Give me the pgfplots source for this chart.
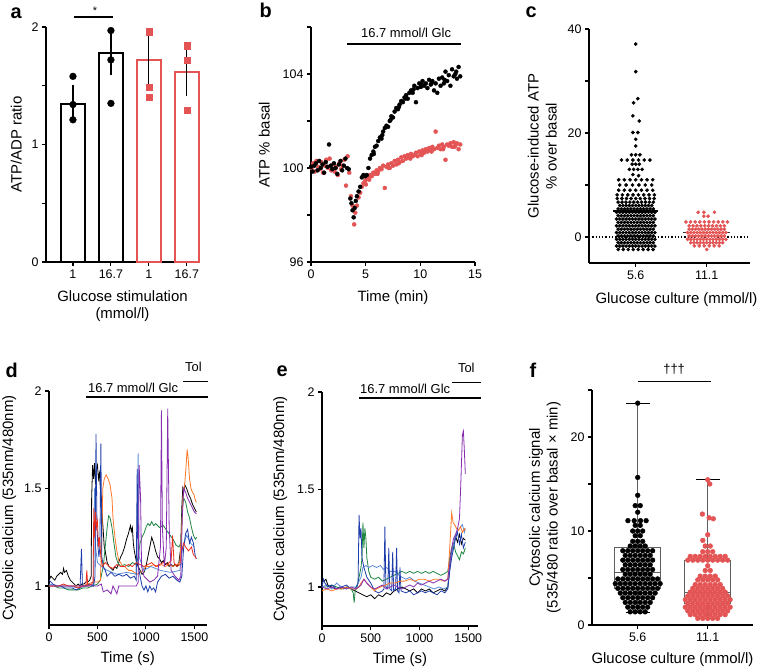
\documentclass[border=0pt]{standalone}
\usepackage{fontspec}
\setmainfont{Liberation Sans}
\usepackage{pgfplots}
\pgfplotsset{compat=1.18}
\usepgfplotslibrary{statistics}
\definecolor{myred}{RGB}{228,84,84}
\definecolor{tblue}{RGB}{30,60,170}
\definecolor{tlblue}{RGB}{90,140,215}
\definecolor{torange}{RGB}{255,120,40}
\definecolor{tred}{RGB}{235,45,30}
\definecolor{tgreen}{RGB}{30,135,65}
\definecolor{tpurple}{RGB}{135,45,175}
\definecolor{boxgray}{RGB}{95,95,95}
\pgfplotsset{
  base/.style={
    scale only axis, clip=false, anchor=south west,
    axis x line*=bottom, axis y line*=left,
    tick align=outside, major tick length=4bp,
    axis line style={line width=1.2bp, black},
    tick style={line width=1.1bp, black},
    tick label style={font=\fontsize{12.5}{14}\selectfont},
    label style={font=\fontsize{15}{18}\selectfont, align=center},
    /pgf/number format/assume math mode=true,
    /pgf/number format/1000 sep={},
    scaled ticks=false,
  },
  trace/.style={line width=0.8bp, mark=none},
}
\begin{document}
\begin{tikzpicture}
\useasboundingbox (0,0) rectangle (759bp,668bp);
\fill[white] (0,0) rectangle (759bp,668bp);
\tikzset{plab/.style={anchor=base west, font=\fontsize{20}{24}\selectfont\bfseries}}
\node[plab] at (7bp,649bp) {a};
\node[plab] at (256bp,650bp) {b};
\node[plab] at (522bp,650bp) {c};
\node[plab] at (2bp,290bp) {d};
\node[plab] at (273bp,291bp) {e};
\node[plab] at (526bp,290bp) {f};

% ---------------- a
\begin{axis}[base, at={(46bp,406bp)}, width=153bp, height=235bp,
  xmin=0.29, xmax=4.32, ymin=0, ymax=2,
  xtick={1,2,3,4}, xticklabels={1,16.7,1,16.7},
  ytick={0,0.5,1,1.5,2}, yticklabels={0,,1,,2},
  ylabel shift=3bp, xlabel shift=5bp,
  ylabel={ATP/ADP ratio}, xlabel={Glucose stimulation\\(mmol/l)}]
\addplot[ybar, bar width=24.5bp, bar shift=0pt, draw=black, fill=white, line width=2bp] coordinates {(1,1.345)(2,1.78)};
\addplot[ybar, bar width=24.5bp, bar shift=0pt, draw=myred, fill=white, line width=2bp] coordinates {(3,1.72)(4,1.62)};
\addplot[only marks, mark=*, mark size=3.4bp, black] coordinates {(1,1.58)(1,1.34)(1,1.21)(2,1.97)(2,1.72)(2,1.35)};
\addplot[only marks, mark=square*, mark size=3.1bp, myred, mark options={draw=myred, fill=myred}] coordinates {(3,1.96)(3,1.49)(3,1.40)(4,1.84)(4,1.72)(4,1.29)};
\addplot[draw=none, mark=none, error bars/.cd, y dir=both, y explicit,
  error bar style={draw=black, line width=1.2bp}, error mark=-, error mark options={draw=black, line width=1.2bp, mark size=4bp}]
  coordinates {(1,1.345) +- (0,0.13) (2,1.78) +- (0,0.157) (3,1.72) +- (0,0.168) (4,1.62) +- (0,0.17)};
\draw[line width=1.2bp] (axis cs:1.03,2.085) -- (axis cs:2.06,2.085);
\node[anchor=north, inner sep=0pt, font=\fontsize{11}{13}\selectfont] at (axis cs:1.58,2.175) {*};
\end{axis}

% ---------------- b
\begin{axis}[base, at={(311bp,406bp)}, width=164bp, height=235bp,
  xmin=0, xmax=15, ymin=96, ymax=106,
  xtick={0,5,10,15}, ytick={96,98,...,106}, yticklabels={96,,100,,104,},
  ylabel shift=6bp, xlabel shift=5bp,
  xlabel={Time (min)}, ylabel={ATP \% basal}]
\addplot[only marks, mark=*, mark size=2bp, myred] coordinates {
(0.05,100.00)(0.20,100.20)(0.35,99.85)(0.50,100.30)(0.65,100.05)(0.80,99.95)(0.95,100.25)(1.10,99.80)(1.25,100.10)(1.40,100.35)
(1.55,100.00)(1.70,100.40)(1.85,99.90)(2.00,100.15)(2.15,99.85)(2.30,100.05)(2.45,99.70)(2.60,100.20)(2.75,99.95)(2.90,100.10)
(3.05,100.35)(3.20,99.25)(3.35,100.50)(3.50,99.80)(3.65,98.80)(3.80,98.40)(3.95,97.60)(4.05,98.10)(4.20,98.40)(4.35,98.75)
(4.50,98.95)(4.65,99.20)(4.80,99.35)(4.95,99.45)(5.10,99.55)(5.25,99.60)(5.40,99.70)(5.55,99.65)(5.70,99.80)(5.85,99.75)
(6.00,99.90)(6.15,99.85)(6.30,100.00)(6.45,99.95)(6.60,100.10)(6.75,99.15)(6.90,100.05)(7.05,100.15)(7.20,100.00)(7.35,100.20)
(7.50,100.10)(7.65,100.30)(7.80,100.15)(7.95,100.35)(8.10,100.25)(8.25,100.45)(8.40,100.30)(8.55,100.50)(8.70,100.40)(8.85,100.55)
(9.00,100.45)(9.15,100.60)(9.30,100.50)(9.45,100.55)(9.60,100.65)(9.75,100.50)(9.90,100.70)(10.05,100.60)(10.20,100.75)(10.35,100.65)
(10.50,100.80)(10.65,100.70)(10.80,100.85)(10.95,100.75)(11.10,100.90)(11.25,100.80)(11.40,101.55)(11.55,100.85)(11.70,100.95)(11.85,100.80)
(12.00,101.00)(12.15,100.90)(12.30,100.35)(12.45,101.00)(12.60,100.95)(12.75,101.05)(12.90,100.90)(13.05,101.10)(13.20,100.95)(13.35,101.05)
(13.50,100.80)(13.65,101.00)(5.02,99.30)(5.32,99.50)(6.08,99.75)(7.12,100.00)(8.02,100.20)(9.08,100.40)(10.12,100.55)(11.02,100.70)(12.08,100.80)(13.12,100.90)};
\addplot[only marks, mark=*, mark size=2bp, black] coordinates {
(0.00,100.05)(0.15,99.85)(0.30,100.10)(0.45,100.20)(0.60,99.90)(0.75,100.30)(0.90,100.00)(1.05,100.15)(1.20,99.80)(1.35,100.25)
(1.50,100.05)(1.65,101.00)(1.80,100.10)(1.95,99.95)(2.10,100.20)(2.25,100.00)(2.40,99.75)(2.55,100.15)(2.70,100.30)(2.85,99.90)
(3.00,100.10)(3.15,100.40)(3.30,100.00)(3.45,99.95)(3.60,98.70)(3.70,98.50)(3.80,98.20)(3.90,97.90)(4.00,98.30)(4.10,98.60)
(4.20,98.80)(4.35,99.00)(4.50,99.20)(4.65,99.60)(4.80,99.70)(4.95,99.65)(5.10,99.70)(5.25,100.00)(5.40,100.40)(5.55,100.55)
(5.70,100.70)(5.85,100.90)(6.00,100.95)(6.15,101.15)(6.30,101.30)(6.45,101.25)(6.60,101.55)(6.75,101.70)(6.90,101.80)(7.05,101.75)
(7.20,102.00)(7.35,102.20)(7.50,102.15)(7.65,102.40)(7.80,102.55)(7.95,102.50)(8.10,102.70)(8.25,102.85)(8.40,102.80)(8.55,103.00)
(8.70,103.10)(8.85,102.95)(9.00,103.20)(9.15,103.30)(9.30,103.20)(9.45,103.50)(9.60,102.80)(9.75,103.40)(9.90,103.60)(10.05,103.45)
(10.20,103.70)(10.35,103.50)(10.50,103.60)(10.65,103.40)(10.80,103.75)(10.95,103.55)(11.10,103.70)(11.25,103.30)(11.40,103.60)(11.55,103.20)
(11.70,103.80)(11.85,103.50)(12.00,103.85)(12.15,103.60)(12.30,104.10)(12.45,103.70)(12.60,103.95)(12.75,103.50)(12.90,104.20)(13.05,103.90)
(13.20,104.00)(13.35,103.80)(13.50,104.30)(13.65,103.90)(5.75,100.60)(6.52,101.40)(7.28,102.05)(8.05,102.60)(8.62,102.95)(9.38,103.35)(10.12,103.55)(11.02,103.60)(12.22,103.75)(13.28,104.10)};
\draw[line width=1.2bp] (axis cs:3.31,105.28) -- (axis cs:13.74,105.28);
\node[anchor=base, font=\fontsize{13}{15}\selectfont] at (axis cs:8.7,105.55) {16.7 mmol/l Glc};
\end{axis}

% ---------------- c
\begin{axis}[base, at={(589bp,405bp)}, width=161bp, height=234bp,
  xmin=0.342, xmax=2.61, ymin=-5, ymax=40,
  xtick={1,2}, xticklabels={5.6,11.1}, ytick={0,10,...,40}, yticklabels={0,,20,,40},
  ylabel shift=4bp, xlabel shift=6bp,
  xlabel={Glucose culture (mmol/l)}, xlabel style={xshift=7bp},
  ylabel={Glucose-induced ATP\\\% over basal}]
\addplot[black, dotted, line width=1.3bp] coordinates {(0.342,0)(2.61,0)};
\addplot[only marks, mark=*, mark size=1.65bp, black] coordinates {
(0.755,-2.4)(0.825,-2.4)(0.895,-2.4)(0.965,-2.4)(1.035,-2.4)(1.105,-2.4)(1.175,-2.4)(1.245,-2.4)
(0.73,-1.75)(0.775,-1.75)(0.82,-1.75)(0.865,-1.75)(0.91,-1.75)(0.955,-1.75)(1,-1.75)(1.045,-1.75)(1.09,-1.75)(1.135,-1.75)(1.18,-1.75)(1.225,-1.75)(1.27,-1.75)
(0.7525,-1.1)(0.7975,-1.1)(0.8425,-1.1)(0.8875,-1.1)(0.9325,-1.1)(0.9775,-1.1)(1.0225,-1.1)(1.0675,-1.1)(1.1125,-1.1)(1.1575,-1.1)(1.2025,-1.1)(1.2475,-1.1)
(0.73,-0.45)(0.775,-0.45)(0.82,-0.45)(0.865,-0.45)(0.91,-0.45)(0.955,-0.45)(1,-0.45)(1.045,-0.45)(1.09,-0.45)(1.135,-0.45)(1.18,-0.45)(1.225,-0.45)(1.27,-0.45)
(0.7525,0.2)(0.7975,0.2)(0.8425,0.2)(0.8875,0.2)(0.9325,0.2)(0.9775,0.2)(1.0225,0.2)(1.0675,0.2)(1.1125,0.2)(1.1575,0.2)(1.2025,0.2)(1.2475,0.2)
(0.73,0.85)(0.775,0.85)(0.82,0.85)(0.865,0.85)(0.91,0.85)(0.955,0.85)(1,0.85)(1.045,0.85)(1.09,0.85)(1.135,0.85)(1.18,0.85)(1.225,0.85)(1.27,0.85)
(0.7525,1.5)(0.7975,1.5)(0.8425,1.5)(0.8875,1.5)(0.9325,1.5)(0.9775,1.5)(1.0225,1.5)(1.0675,1.5)(1.1125,1.5)(1.1575,1.5)(1.2025,1.5)(1.2475,1.5)
(0.73,2.15)(0.775,2.15)(0.82,2.15)(0.865,2.15)(0.91,2.15)(0.955,2.15)(1,2.15)(1.045,2.15)(1.09,2.15)(1.135,2.15)(1.18,2.15)(1.225,2.15)(1.27,2.15)
(0.7525,2.8)(0.7975,2.8)(0.8425,2.8)(0.8875,2.8)(0.9325,2.8)(0.9775,2.8)(1.0225,2.8)(1.0675,2.8)(1.1125,2.8)(1.1575,2.8)(1.2025,2.8)(1.2475,2.8)
(0.73,3.45)(0.775,3.45)(0.82,3.45)(0.865,3.45)(0.91,3.45)(0.955,3.45)(1,3.45)(1.045,3.45)(1.09,3.45)(1.135,3.45)(1.18,3.45)(1.225,3.45)(1.27,3.45)
(0.7525,4.1)(0.7975,4.1)(0.8425,4.1)(0.8875,4.1)(0.9325,4.1)(0.9775,4.1)(1.0225,4.1)(1.0675,4.1)(1.1125,4.1)(1.1575,4.1)(1.2025,4.1)(1.2475,4.1)
(0.73,4.75)(0.775,4.75)(0.82,4.75)(0.865,4.75)(0.91,4.75)(0.955,4.75)(1,4.75)(1.045,4.75)(1.09,4.75)(1.135,4.75)(1.18,4.75)(1.225,4.75)(1.27,4.75)
(0.7525,5.4)(0.7975,5.4)(0.8425,5.4)(0.8875,5.4)(0.9325,5.4)(0.9775,5.4)(1.0225,5.4)(1.0675,5.4)(1.1125,5.4)(1.1575,5.4)(1.2025,5.4)(1.2475,5.4)
(0.775,6.05)(0.82,6.05)(0.865,6.05)(0.91,6.05)(0.955,6.05)(1,6.05)(1.045,6.05)(1.09,6.05)(1.135,6.05)(1.18,6.05)(1.225,6.05)
(0.7525,6.7)(0.8075,6.7)(0.8625,6.7)(0.9175,6.7)(0.9725,6.7)(1.0275,6.7)(1.0825,6.7)(1.1375,6.7)(1.1925,6.7)(1.2475,6.7)
(0.74,7.4)(0.805,7.4)(0.87,7.4)(0.935,7.4)(1,7.4)(1.065,7.4)(1.13,7.4)(1.195,7.4)(1.26,7.4)
(0.7375,8.1)(0.8125,8.1)(0.8875,8.1)(0.9625,8.1)(1.0375,8.1)(1.1125,8.1)(1.1875,8.1)(1.2625,8.1)
(0.76,9.0)(0.84,9.0)(0.92,9.0)(1,9.0)(1.08,9.0)(1.16,9.0)(1.24,9.0)
(0.775,10.0)(0.865,10.0)(0.955,10.0)(1.045,10.0)(1.135,10.0)(1.225,10.0)
(0.76,11.0)(0.84,11.0)(0.92,11.0)(1,11.0)(1.08,11.0)(1.16,11.0)(1.24,11.0)
(0.96,12.0)(1.04,11.8)
(0.91,13.0)(0.97,13.0)(1.03,13.0)(1.09,13.0)
(0.95,14.0)(1.0,14.0)(1.05,14.0)
(0.8,14.8)(0.88,14.8)(0.96,14.8)(1.04,14.8)(1.12,14.8)(1.2,14.8)
(0.94,15.8)(1.0,15.8)(1.06,15.8)
(1.0,17.5)(1.0,18.8)(0.96,20.1)(1.03,20.1)(1.05,22.3)(0.96,23.3)(0.97,25.8)(1.03,26.6)(1.0,31.8)(1.0,37.1)};
\addplot[only marks, mark=*, mark size=1.65bp, myred] coordinates {
(2,-2.4)
(1.825,-1.7)(1.895,-1.7)(1.965,-1.7)(2.035,-1.7)(2.105,-1.7)(2.175,-1.7)
(1.775,-1.1)(1.82,-1.1)(1.865,-1.1)(1.91,-1.1)(1.955,-1.1)(2,-1.1)(2.045,-1.1)(2.09,-1.1)(2.135,-1.1)(2.18,-1.1)(2.225,-1.1)
(1.73,-0.45)(1.775,-0.45)(1.82,-0.45)(1.865,-0.45)(1.91,-0.45)(1.955,-0.45)(2,-0.45)(2.045,-0.45)(2.09,-0.45)(2.135,-0.45)(2.18,-0.45)(2.225,-0.45)(2.27,-0.45)
(1.7525,0.2)(1.7975,0.2)(1.8425,0.2)(1.8875,0.2)(1.9325,0.2)(1.9775,0.2)(2.0225,0.2)(2.0675,0.2)(2.1125,0.2)(2.1575,0.2)(2.2025,0.2)(2.2475,0.2)
(1.73,0.85)(1.775,0.85)(1.82,0.85)(1.865,0.85)(1.91,0.85)(1.955,0.85)(2,0.85)(2.045,0.85)(2.09,0.85)(2.135,0.85)(2.18,0.85)(2.225,0.85)(2.27,0.85)
(1.7525,1.5)(1.7975,1.5)(1.8425,1.5)(1.8875,1.5)(1.9325,1.5)(1.9775,1.5)(2.0225,1.5)(2.0675,1.5)(2.1125,1.5)(2.1575,1.5)(2.2025,1.5)(2.2475,1.5)
(1.7525,2.15)(1.8075,2.15)(1.8625,2.15)(1.9175,2.15)(1.9725,2.15)(2.0275,2.15)(2.0825,2.15)(2.1375,2.15)(2.1925,2.15)(2.2475,2.15)
(1.7075,2.9)(1.7725,2.9)(1.8375,2.9)(1.9025,2.9)(1.9675,2.9)(2.0325,2.9)(2.0975,2.9)(2.1625,2.9)(2.2275,2.9)(2.2925,2.9)
(1.96,4.0)(2.02,4.0)(1.88,4.75)(1.96,4.75)(2.11,4.75)};
\addplot[black, line width=1.5bp] coordinates {(0.68,5)(1.32,5)};
\addplot[black!80, line width=1.5bp] coordinates {(1.67,0.9)(2.33,0.9)};
\end{axis}

% ---------------- d
\begin{axis}[base, at={(49bp,43bp)}, width=157.5bp, height=234bp,
  xmin=0, xmax=1625, ymin=0.8, ymax=2,
  xtick={0,500,1000,1500}, ytick={1,1.5,2},
  ylabel shift=1bp, xlabel shift=3bp,
  xlabel={Time (s)}, ylabel={Cytosolic calcium (535nm/480nm)}]
\addplot[trace, black] coordinates {(0,1.03)(20,1.05)(40,1.04)(60,1.03)(80,1.05)(100,1.06)(120,1.07)(140,1.06)(150,1.09)(160,1.07)(180,1.08)(200,1.05)(220,1.03)(240,1.02)(260,1.01)(280,1.00)(300,1.01)(320,1.00)(340,1.01)(360,1.01)(380,1.02)(400,1.02)(420,1.03)(435,1.05)(440,1.45)(450,1.62)(460,1.55)(470,1.63)(480,1.52)(490,1.60)(500,1.62)(510,1.55)(520,1.58)(530,1.50)(540,1.45)(550,1.35)(560,1.28)(570,1.20)(580,1.18)(600,1.12)(620,1.10)(640,1.09)(660,1.08)(680,1.10)(700,1.09)(720,1.12)(740,1.15)(760,1.17)(780,1.20)(800,1.24)(820,1.27)(840,1.31)(850,1.28)(860,1.30)(870,1.22)(880,1.18)(900,1.13)(920,1.10)(940,1.08)(960,1.06)(980,1.07)(1000,1.10)(1020,1.15)(1040,1.20)(1060,1.25)(1080,1.22)(1100,1.18)(1120,1.15)(1140,1.14)(1160,1.12)(1180,1.13)(1200,1.11)(1220,1.12)(1240,1.10)(1260,1.11)(1280,1.10)(1300,1.11)(1320,1.10)(1340,1.12)(1360,1.20)(1370,1.40)(1380,1.50)(1390,1.48)(1400,1.52)(1420,1.50)(1440,1.47)(1460,1.45)(1480,1.42)(1500,1.40)(1520,1.38)};
\addplot[trace, tgreen] coordinates {(0,1.00)(50,1.00)(100,0.99)(150,0.99)(200,0.98)(250,0.98)(300,0.98)(350,0.99)(400,0.99)(450,1.00)(500,1.01)(530,1.03)(560,1.10)(580,1.20)(600,1.30)(615,1.36)(630,1.35)(650,1.30)(670,1.22)(690,1.15)(710,1.12)(740,1.10)(780,1.11)(820,1.10)(860,1.12)(900,1.11)(920,1.15)(940,1.22)(960,1.25)(980,1.27)(1000,1.30)(1020,1.32)(1040,1.31)(1060,1.33)(1080,1.31)(1100,1.32)(1140,1.30)(1180,1.31)(1220,1.28)(1250,1.26)(1280,1.24)(1310,1.21)(1340,1.20)(1360,1.22)(1375,1.40)(1390,1.45)(1410,1.43)(1430,1.38)(1450,1.35)(1470,1.30)(1490,1.26)(1510,1.24)(1525,1.25)};
\addplot[trace, torange] coordinates {(0,1.00)(50,1.00)(100,1.00)(150,1.00)(200,1.00)(250,1.00)(300,1.00)(350,1.00)(400,1.01)(450,1.02)(500,1.02)(530,1.03)(545,1.25)(555,1.50)(570,1.55)(590,1.57)(610,1.55)(630,1.52)(650,1.45)(660,1.35)(680,1.25)(700,1.18)(720,1.13)(740,1.12)(760,1.10)(780,1.10)(800,1.09)(820,1.08)(850,1.08)(880,1.07)(910,1.06)(940,1.07)(970,1.08)(1000,1.10)(1040,1.10)(1080,1.11)(1120,1.10)(1160,1.11)(1200,1.10)(1240,1.11)(1280,1.10)(1320,1.11)(1350,1.12)(1370,1.30)(1385,1.48)(1400,1.52)(1415,1.62)(1425,1.70)(1435,1.66)(1450,1.55)(1465,1.50)(1480,1.48)(1495,1.47)(1510,1.44)(1520,1.43)};
\addplot[trace, tlblue] coordinates {(0,1.01)(100,1.00)(200,1.00)(300,0.99)(400,1.00)(460,1.01)(470,1.50)(480,1.20)(500,1.12)(540,1.10)(600,1.08)(700,1.06)(800,1.07)(900,1.06)(920,1.68)(930,1.15)(980,1.08)(1050,1.10)(1150,1.08)(1250,1.07)(1350,1.08)(1380,1.20)(1420,1.26)(1460,1.22)(1500,1.20)};
\addplot[trace, tblue] coordinates {(0,1.03)(20,1.02)(40,1.01)(80,1.00)(120,1.00)(160,0.99)(200,0.99)(240,0.99)(280,0.98)(320,0.99)(335,1.19)(345,1.00)(380,1.00)(420,1.01)(460,1.00)(475,1.05)(485,1.78)(495,1.30)(505,1.20)(515,1.15)(525,1.20)(535,1.73)(545,1.15)(560,1.10)(580,1.08)(600,1.05)(640,1.07)(680,1.05)(720,1.06)(760,1.05)(800,1.06)(840,1.04)(880,1.05)(900,1.03)(910,1.60)(920,1.10)(940,1.05)(960,1.00)(980,0.98)(1000,1.00)(1020,0.97)(1040,1.00)(1060,0.98)(1080,0.99)(1100,0.97)(1120,1.02)(1160,1.05)(1200,1.06)(1240,1.04)(1280,1.05)(1320,1.03)(1350,1.02)(1370,1.05)(1390,1.20)(1410,1.27)(1430,1.29)(1450,1.22)(1470,1.25)(1490,1.22)(1510,1.15)(1520,1.14)};
\addplot[trace, tred] coordinates {(0,1.00)(50,1.00)(100,1.00)(150,1.01)(200,1.00)(250,1.00)(300,0.99)(350,1.00)(380,1.00)(390,1.08)(400,1.00)(440,1.01)(455,1.02)(462,1.40)(470,1.25)(480,1.38)(490,1.30)(500,1.33)(510,1.20)(520,1.25)(535,1.15)(550,1.10)(580,1.12)(620,1.10)(660,1.09)(700,1.11)(740,1.10)(780,1.10)(820,1.11)(860,1.10)(900,1.12)(940,1.11)(980,1.10)(1020,1.11)(1060,1.12)(1100,1.10)(1140,1.11)(1180,1.12)(1220,1.11)(1260,1.13)(1275,1.26)(1290,1.12)(1320,1.10)(1350,1.11)(1370,1.18)(1390,1.22)(1410,1.20)(1440,1.18)(1470,1.20)(1490,1.16)(1510,1.15)(1520,1.14)};
\addplot[trace, tpurple] coordinates {(0,1.00)(100,1.00)(200,1.00)(300,1.00)(400,1.00)(500,1.00)(540,1.01)(560,0.97)(600,0.98)(640,0.96)(660,1.00)(700,0.96)(720,1.00)(760,1.00)(800,1.00)(850,1.00)(900,1.00)(920,1.02)(930,1.62)(945,1.45)(955,1.10)(980,1.05)(1000,1.04)(1040,1.02)(1080,1.03)(1120,1.05)(1150,1.20)(1160,1.90)(1170,1.30)(1190,1.10)(1210,1.20)(1225,1.91)(1240,1.30)(1260,1.08)(1300,1.05)(1340,1.03)(1360,1.05)(1375,1.35)(1390,1.50)(1410,1.48)(1430,1.45)(1460,1.42)(1480,1.40)(1500,1.38)(1520,1.37)};
\draw[line width=1.2bp] (axis cs:385,1.969) -- (axis cs:1644,1.969);
\draw[line width=1.2bp] (axis cs:1380,2.05) -- (axis cs:1644,2.05);
\node[anchor=base, font=\fontsize{13}{15}\selectfont] at (axis cs:868,1.99) {16.7 mmol/l Glc};
\node[anchor=base, font=\fontsize{13}{15}\selectfont] at (axis cs:1490,2.10) {Tol};
\end{axis}

% ---------------- e
\begin{axis}[base, at={(322bp,42bp)}, width=156bp, height=234bp,
  xmin=0, xmax=1600, ymin=0.8, ymax=2,
  xtick={0,500,1000,1500}, ytick={1,1.5,2},
  ylabel shift=3bp, xlabel shift=3bp,
  xlabel={Time (s)}, ylabel={Cytosolic calcium (535nm/480nm)}]
\addplot[trace, black] coordinates {(0,1.05)(20,1.03)(40,1.04)(60,1.01)(100,1.00)(140,0.99)(180,1.00)(220,0.99)(260,1.00)(300,0.99)(340,0.98)(380,0.97)(420,0.96)(460,0.95)(500,0.96)(540,0.94)(580,0.96)(620,0.95)(660,0.97)(700,0.96)(740,0.98)(780,0.99)(820,1.00)(860,0.99)(900,0.98)(940,0.99)(980,0.97)(1020,0.99)(1060,0.98)(1100,0.99)(1140,0.97)(1180,0.98)(1220,0.99)(1260,0.98)(1290,1.00)(1310,1.10)(1330,1.18)(1350,1.22)(1370,1.26)(1390,1.23)(1410,1.27)(1430,1.22)(1450,1.25)(1470,1.24)};
\addplot[trace, tgreen] coordinates {(0,1.00)(50,1.00)(100,1.01)(150,1.00)(200,0.99)(250,1.00)(300,0.99)(320,0.97)(330,0.92)(340,0.98)(360,1.00)(380,1.05)(400,1.10)(410,1.15)(420,1.33)(430,1.20)(440,1.30)(450,1.25)(460,1.15)(480,1.08)(500,1.05)(540,1.04)(580,1.05)(620,1.03)(660,1.04)(700,1.05)(740,1.06)(780,1.07)(820,1.08)(860,1.07)(900,1.08)(940,1.07)(980,1.08)(1020,1.07)(1060,1.08)(1100,1.07)(1140,1.08)(1180,1.07)(1220,1.06)(1260,1.07)(1290,1.08)(1310,1.15)(1330,1.20)(1350,1.22)(1370,1.18)(1390,1.16)(1410,1.14)(1430,1.18)(1450,1.17)(1470,1.20)};
\addplot[trace, tlblue] coordinates {(0,1.00)(50,1.01)(100,0.99)(150,1.02)(200,1.00)(250,0.99)(300,1.00)(350,1.00)(400,1.05)(420,1.10)(450,1.11)(480,1.10)(520,1.11)(560,1.10)(600,1.11)(630,1.09)(660,1.10)(700,1.08)(750,1.08)(790,1.06)(820,1.05)(860,1.04)(900,1.05)(950,1.03)(1000,1.02)(1050,1.01)(1100,1.00)(1150,0.99)(1200,1.00)(1250,0.99)(1290,1.00)(1320,1.15)(1350,1.22)(1380,1.28)(1410,1.30)(1440,1.32)(1460,1.28)(1470,1.30)};
\addplot[trace, tblue] coordinates {(0,1.00)(15,1.04)(30,1.02)(60,1.00)(100,1.01)(150,0.99)(200,1.00)(250,1.01)(300,0.99)(340,0.99)(370,1.02)(380,1.37)(390,1.25)(400,1.30)(410,1.15)(430,1.10)(460,1.05)(500,1.02)(540,0.98)(580,0.97)(620,0.98)(635,0.99)(645,1.31)(655,1.00)(675,0.99)(685,1.20)(695,0.99)(715,0.98)(725,1.18)(735,0.98)(755,0.99)(765,1.20)(775,0.98)(790,0.97)(800,1.10)(810,0.98)(860,0.97)(900,0.98)(940,0.96)(980,0.97)(1020,0.98)(1060,0.97)(1100,0.98)(1140,0.97)(1180,0.96)(1220,0.98)(1260,0.97)(1290,0.99)(1310,1.08)(1330,1.15)(1350,1.20)(1370,1.25)(1390,1.28)(1410,1.22)(1430,1.27)(1450,1.20)(1470,1.23)};
\addplot[trace, torange] coordinates {(0,0.98)(50,0.99)(100,0.98)(150,0.99)(200,0.99)(250,1.00)(300,0.99)(350,0.99)(380,1.00)(400,1.02)(430,1.04)(460,1.02)(500,1.00)(540,0.98)(560,0.99)(600,1.00)(650,1.01)(700,1.02)(750,1.02)(800,1.03)(850,1.03)(900,1.04)(950,1.03)(1000,1.04)(1050,1.04)(1100,1.03)(1150,1.04)(1200,1.04)(1250,1.03)(1290,1.04)(1310,1.20)(1330,1.38)(1345,1.33)(1360,1.32)(1380,1.30)(1400,1.29)(1420,1.31)(1440,1.28)(1460,1.30)(1470,1.29)};
\addplot[trace, tpurple] coordinates {(0,1.00)(50,0.99)(100,1.00)(150,0.99)(200,1.00)(250,0.99)(300,1.00)(350,0.99)(400,1.01)(430,1.04)(460,1.02)(500,1.00)(540,0.99)(580,1.00)(620,1.01)(660,0.99)(700,1.00)(740,1.01)(780,1.00)(820,0.99)(860,1.00)(900,1.01)(940,1.00)(980,1.02)(1020,1.01)(1060,1.02)(1100,1.03)(1140,1.02)(1180,1.03)(1220,1.04)(1260,1.03)(1290,1.04)(1310,1.12)(1330,1.20)(1350,1.25)(1370,1.27)(1390,1.30)(1410,1.35)(1425,1.55)(1440,1.78)(1450,1.80)(1460,1.70)(1470,1.58)};
\draw[line width=1.2bp] (axis cs:377,1.969) -- (axis cs:1631,1.969);
\draw[line width=1.2bp] (axis cs:1333,2.05) -- (axis cs:1631,2.05);
\node[anchor=base, font=\fontsize{13}{15}\selectfont] at (axis cs:853,1.99) {16.7 mmol/l Glc};
\node[anchor=base, font=\fontsize{13}{15}\selectfont] at (axis cs:1480,2.10) {Tol};
\end{axis}

% ---------------- f
\begin{axis}[base, at={(592bp,43bp)}, width=161bp, height=235bp,
  xmin=0.347, xmax=2.647, ymin=0, ymax=25,
  boxplot/draw direction=y,
  xtick={1,2}, xticklabels={5.6,11.1}, ytick={0,5,...,25}, yticklabels={0,,10,,20,},
  ylabel shift=3bp, xlabel shift=4bp,
  xlabel={Glucose culture (mmol/l)},
  ylabel={Cytosolic calcium signal\\(535/480 ratio over basal × min)}]
\addplot[boxgray, line width=1bp, boxplot prepared={draw position=1, lower whisker=1.3, lower quartile=3.85, median=5.55, upper quartile=8.2, upper whisker=23.6, box extend=0.66, whisker extend=0}] coordinates {};
\addplot[boxgray, line width=1bp, boxplot prepared={draw position=2, lower whisker=0.65, lower quartile=2.25, median=3.5, upper quartile=6.85, upper whisker=15.5, box extend=0.66, whisker extend=0}] coordinates {};
\addplot[black, line width=1.2bp] coordinates {(0.83,23.6)(1.17,23.6)};
\addplot[black, line width=1.2bp] coordinates {(0.83,1.3)(1.17,1.3)};
\addplot[black, line width=1.2bp] coordinates {(1.83,15.5)(2.17,15.5)};
\addplot[black, line width=1.2bp] coordinates {(1.83,0.65)(2.17,0.65)};
\addplot[only marks, mark=*, mark size=2.4bp, black] coordinates {
(0.893,1.4)(0.964,1.4)(1.036,1.4)(1.107,1.4)
(0.858,1.9)(0.929,1.9)(1,1.9)(1.071,1.9)(1.142,1.9)
(0.822,2.4)(0.893,2.4)(0.964,2.4)(1.036,2.4)(1.107,2.4)(1.178,2.4)
(0.787,2.9)(0.858,2.9)(0.929,2.9)(1,2.9)(1.071,2.9)(1.142,2.9)(1.213,2.9)
(0.751,3.4)(0.822,3.4)(0.893,3.4)(0.964,3.4)(1.036,3.4)(1.107,3.4)(1.178,3.4)(1.249,3.4)
(0.716,3.9)(0.787,3.9)(0.858,3.9)(0.929,3.9)(1,3.9)(1.071,3.9)(1.142,3.9)(1.213,3.9)(1.284,3.9)
(0.68,4.4)(0.751,4.4)(0.822,4.4)(0.893,4.4)(0.964,4.4)(1.036,4.4)(1.107,4.4)(1.178,4.4)(1.249,4.4)(1.32,4.4)
(0.716,4.9)(0.787,4.9)(0.858,4.9)(0.929,4.9)(1,4.9)(1.071,4.9)(1.142,4.9)(1.213,4.9)(1.284,4.9)
(0.822,5.4)(0.893,5.4)(0.964,5.4)(1.036,5.4)(1.107,5.4)(1.178,5.4)
(0.787,5.9)(0.858,5.9)(0.929,5.9)(1,5.9)(1.071,5.9)(1.142,5.9)(1.213,5.9)
(0.822,6.4)(0.893,6.4)(0.964,6.4)(1.036,6.4)(1.107,6.4)(1.178,6.4)
(0.787,6.9)(0.858,6.9)(0.929,6.9)(1,6.9)(1.071,6.9)(1.142,6.9)(1.213,6.9)
(0.822,7.4)(0.893,7.4)(0.964,7.4)(1.036,7.4)(1.107,7.4)(1.178,7.4)
(0.787,7.9)(0.858,7.9)(0.929,7.9)(1,7.9)(1.071,7.9)(1.142,7.9)(1.213,7.9)
(0.893,8.4)(0.964,8.4)(1.036,8.4)(1.107,8.4)
(0.929,8.9)(1,8.9)(1.071,8.9)
(0.964,9.5)(1.036,9.5)
(0.929,10.0)(1,10.0)(1.071,10.0)
(0.964,10.6)(1.036,10.6)
(0.86,11.1)(0.95,11.1)(1.04,11.1)(1.12,11.1)
(1,12.0)(0.964,12.7)(1.036,12.7)(1,13.8)(1,15.7)(1,23.6)};
\addplot[only marks, mark=*, mark size=2.4bp, myred] coordinates {
(1.858,0.7)(1.929,0.7)(2,0.7)(2.071,0.7)(2.142,0.7)
(1.751,1.1)(1.822,1.1)(1.893,1.1)(1.964,1.1)(2.036,1.1)(2.107,1.1)(2.178,1.1)(2.249,1.1)
(1.716,1.5)(1.787,1.5)(1.858,1.5)(1.929,1.5)(2,1.5)(2.071,1.5)(2.142,1.5)(2.213,1.5)(2.284,1.5)
(1.68,1.9)(1.751,1.9)(1.822,1.9)(1.893,1.9)(1.964,1.9)(2.036,1.9)(2.107,1.9)(2.178,1.9)(2.249,1.9)(2.32,1.9)
(1.716,2.3)(1.787,2.3)(1.858,2.3)(1.929,2.3)(2,2.3)(2.071,2.3)(2.142,2.3)(2.213,2.3)(2.284,2.3)
(1.68,2.7)(1.751,2.7)(1.822,2.7)(1.893,2.7)(1.964,2.7)(2.036,2.7)(2.107,2.7)(2.178,2.7)(2.249,2.7)(2.32,2.7)
(1.716,3.1)(1.787,3.1)(1.858,3.1)(1.929,3.1)(2,3.1)(2.071,3.1)(2.142,3.1)(2.213,3.1)(2.284,3.1)
(1.751,3.5)(1.822,3.5)(1.893,3.5)(1.964,3.5)(2.036,3.5)(2.107,3.5)(2.178,3.5)(2.249,3.5)
(1.787,3.9)(1.858,3.9)(1.929,3.9)(2,3.9)(2.071,3.9)(2.142,3.9)(2.213,3.9)
(1.822,4.3)(1.893,4.3)(1.964,4.3)(2.036,4.3)(2.107,4.3)(2.178,4.3)
(1.858,4.8)(1.929,4.8)(2,4.8)(2.071,4.8)(2.142,4.8)
(1.893,5.2)(1.964,5.2)(2.036,5.2)(2.107,5.2)
(1.964,5.8)(2.036,5.8)(2,6.3)
(1.716,6.9)(1.787,6.9)(1.858,6.9)(1.929,6.9)(2,6.9)(2.071,6.9)(2.142,6.9)(2.213,6.9)(2.284,6.9)
(1.751,7.3)(1.822,7.3)(1.893,7.3)(1.964,7.3)(2.036,7.3)(2.107,7.3)(2.178,7.3)(2.249,7.3)
(1.929,7.8)(2,7.8)(2.071,7.8)
(1.964,8.4)(2.036,8.4)(1.93,9.0)(2,9.6)
(1.924,11.8)(2.02,11.4)(2.08,11.3)(2.03,15.0)(2.0,15.45)};
\draw[line width=1.2bp] (axis cs:1.0,25.9) -- (axis cs:2.05,25.9);
\node[anchor=base, font=\fontsize{13}{15}\selectfont] at (axis cs:1.52,26.75) {†††};
\end{axis}
\end{tikzpicture}
\end{document}
